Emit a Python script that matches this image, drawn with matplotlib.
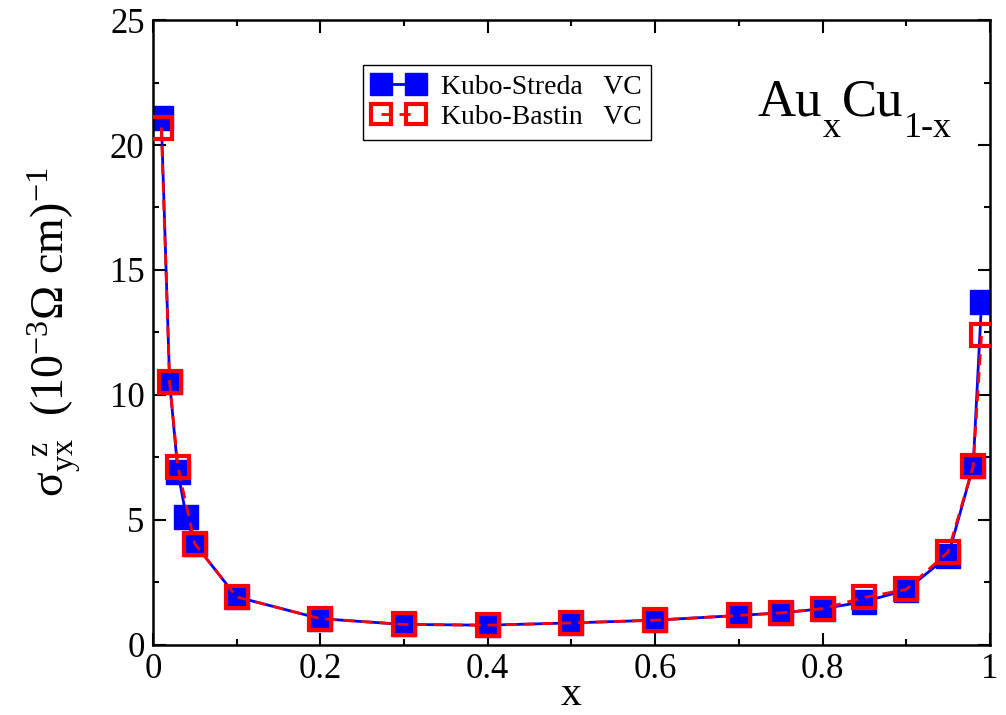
import matplotlib.pyplot as plt
from matplotlib.ticker import MultipleLocator

plt.rcParams['font.family'] = ['Liberation Serif', 'DejaVu Serif']
plt.rcParams['mathtext.fontset'] = 'custom'
plt.rcParams['mathtext.rm'] = 'Liberation Serif'
plt.rcParams['mathtext.it'] = 'Liberation Serif:italic'

# Kubo-Streda (vertex corrections)
x_streda = [0.01, 0.02, 0.03, 0.04, 0.05, 0.1, 0.2, 0.3, 0.4, 0.5, 0.6,
            0.7, 0.75, 0.8, 0.85, 0.9, 0.95, 0.98, 0.99]
y_streda = [21.1, 10.5, 6.9, 5.1, 4.05, 1.92, 1.05, 0.82, 0.79, 0.88, 0.99,
            1.18, 1.28, 1.45, 1.73, 2.2, 3.55, 7.15, 13.7]

# Kubo-Bastin (vertex corrections)
x_bastin = [0.01, 0.02, 0.03, 0.05, 0.1, 0.2, 0.3, 0.4, 0.5, 0.6,
            0.7, 0.75, 0.8, 0.85, 0.9, 0.95, 0.98, 0.99]
y_bastin = [20.7, 10.5, 7.1, 4.05, 1.92, 1.05, 0.82, 0.79, 0.88, 0.99,
            1.18, 1.28, 1.45, 1.9, 2.22, 3.72, 7.15, 12.4]

W, H = 1006, 715
fig = plt.figure(figsize=(W / 100, H / 100), dpi=100)
ax = fig.add_axes([0.152, 0.098, 0.832, 0.874])

ax.plot(x_streda, y_streda, color='blue', lw=2, marker='s', ms=17.5,
        mfc='blue', mec='blue', label='Kubo-Streda   VC', zorder=2)
ax.plot(x_bastin, y_bastin, color='red', lw=2, ls=(0, (4, 2.5)), marker='s', ms=16.5,
        mfc='none', mec='red', mew=3, label='Kubo-Bastin   VC', zorder=3)

ax.set_xlim(0, 1)
ax.set_ylim(0, 25)
ax.set_xticks([0, 0.2, 0.4, 0.6, 0.8, 1.0])
ax.set_xticklabels(['0', '0.2', '0.4', '0.6', '0.8', '1'])
ax.xaxis.set_minor_locator(MultipleLocator(0.1))
ax.yaxis.set_major_locator(MultipleLocator(5))
ax.yaxis.set_minor_locator(MultipleLocator(2.5))
ax.tick_params(which='both', direction='in', top=True, right=True, width=1.5,
               labelsize=25, pad=6)
ax.tick_params(which='major', length=9)
ax.tick_params(which='minor', length=4.5)
for s in ax.spines.values():
    s.set_linewidth(1.8)

ax.set_xlabel('x', fontsize=30, va='baseline')
ax.xaxis.set_label_coords(0.5, -0.096)
ax.set_ylabel(r'σ$_{\mathrm{yx}}^{\ \ \mathrm{z}}$  (10$^{-3}$Ω cm)$^{-1}$', fontsize=33)
ax.yaxis.set_label_coords(-0.083, 0.5)

# Au_x Cu_1-x drawn piece by piece so the subscripts sit low
fig.canvas.draw()
xpos = 757
for txt, size, base in [('Au', 38, 115), ('x', 26, 137), ('Cu', 38, 115), ('1-x', 26, 137)]:
    t = fig.text(xpos / W, 1 - base / H, txt, fontsize=size, va='baseline', ha='left')
    fig.canvas.draw()
    xpos = t.get_window_extent().x1 + 1

leg = ax.legend(loc='upper left', bbox_to_anchor=(0.251, 0.928), fontsize=20,
                numpoints=2, markerscale=0.9, handlelength=1.85, handletextpad=0.6,
                borderpad=0.35, labelspacing=0.15, borderaxespad=0,
                fancybox=False, framealpha=1, edgecolor='black')
leg.get_frame().set_linewidth(1)

fig.savefig('out.png', dpi=100)
